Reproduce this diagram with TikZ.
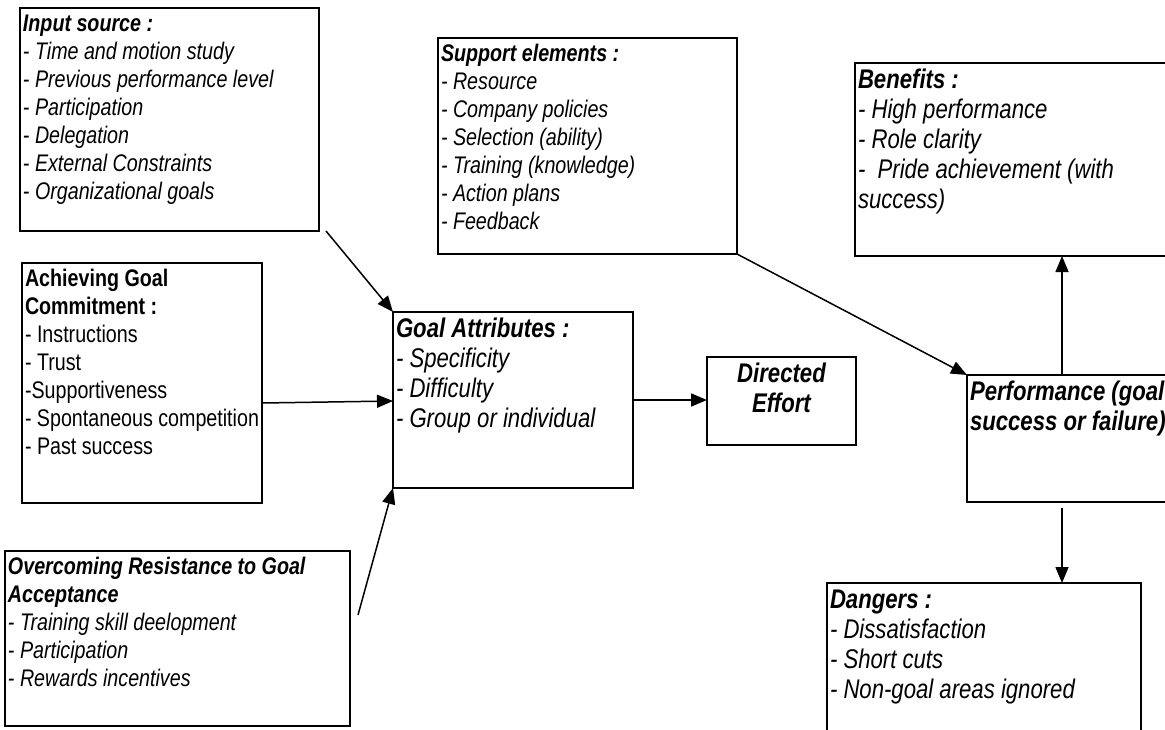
\documentclass[tikz,border=0pt]{standalone}
\usepackage{fontspec}
\setmainfont{Liberation Sans}[FakeStretch=0.82]
\usetikzlibrary{arrows.meta}
\newcommand\fsA{\fontsize{24}{28}\selectfont}
\newcommand\fsB{\fontsize{27}{30}\selectfont}
\newcommand\boxtext[4]{\parbox[c][#2][t]{#1}{\raggedright#3\strut#4}}
\begin{document}
\begin{tikzpicture}[x=1pt,y=-1pt,
  box/.style={draw=black, line width=1.7pt, rectangle, inner xsep=3pt, inner ysep=4pt, outer sep=0pt, anchor=north west},
  arr/.style={line width=1.5pt, -{Triangle[length=16pt,width=13pt]}}]
\useasboundingbox (0,0) rectangle (1165,729);
\fill[white] (0,0) rectangle (1165,729);
\clip (0,0) rectangle (1165,729);

\node[box] (inp) at (20,8) {\boxtext{293pt}{215pt}{\fsA\itshape}{\textbf{Input source :}\\- Time and motion study\\- Previous performance level\\- Participation\\- Delegation\\- External Constraints\\- Organizational goals}};

\node[box] (sup) at (438,38) {\boxtext{293pt}{208pt}{\fsA\itshape}{\textbf{Support elements :}\\- Resource\\- Company policies\\- Selection (ability)\\- Training (knowledge)\\- Action plans\\- Feedback}};

\node[box] (ben) at (855,63) {\boxtext{339pt}{185pt}{\fsB\itshape}{\textbf{Benefits :}\\- High performance\\- Role clarity\\- \ Pride achievement (with\\success)}};

\node[box] (ach) at (22,263) {\boxtext{234pt}{232pt}{\fsA}{\textbf{Achieving Goal}\\\textbf{Commitment :}\\- Instructions\\- Trust\\-Supportiveness\\- Spontaneous competition\\- Past success}};

\node[box] (ovr) at (5,551) {\boxtext{339pt}{167pt}{\fsA\itshape}{\textbf{Overcoming Resistance to Goal}\\\textbf{Acceptance}\\- Training skill deelopment\\- Participation\\- Rewards incentives}};

\node[box] (goal) at (393,312) {\boxtext{234pt}{168pt}{\fsB\itshape}{\textbf{Goal Attributes :}\\- Specificity\\- Difficulty\\- Group or individual}};

\node[box] (dir) at (707,357) {\boxtext{143pt}{80pt}{\fsB\itshape\bfseries\centering}{Directed\\Effort}};

\node[box] (perf) at (967,375) {\boxtext{254pt}{119pt}{\fsB\itshape\bfseries}{Performance (goal\\success or failure)}};

\node[box] (dan) at (827,583) {\boxtext{308pt}{172pt}{\fsB\itshape}{\textbf{Dangers :}\\- Dissatisfaction\\- Short cuts\\- Non-goal areas ignored}};

\coordinate (ovs) at (358,615);

\draw[arr] ([xshift=7pt]inp.south east) -- (goal.north west);
\draw[arr] ([yshift=-20pt]ach.east) -- ([yshift=-1pt]goal.west);
\draw[arr] (ovs) -- (goal.south west);
\draw[arr] (goal.east) -- (goal.east -| dir.west);
\draw[arr] (sup.south east) -- (perf.north west);
\draw[arr] ([xshift=95pt]perf.north west) -- ([xshift=95pt]perf.north west |- ben.south);
\draw[arr] ([xshift=95pt,yshift=-6pt]perf.south west) -- ([xshift=95pt]perf.south west |- dan.north);
\end{tikzpicture}
\end{document}
